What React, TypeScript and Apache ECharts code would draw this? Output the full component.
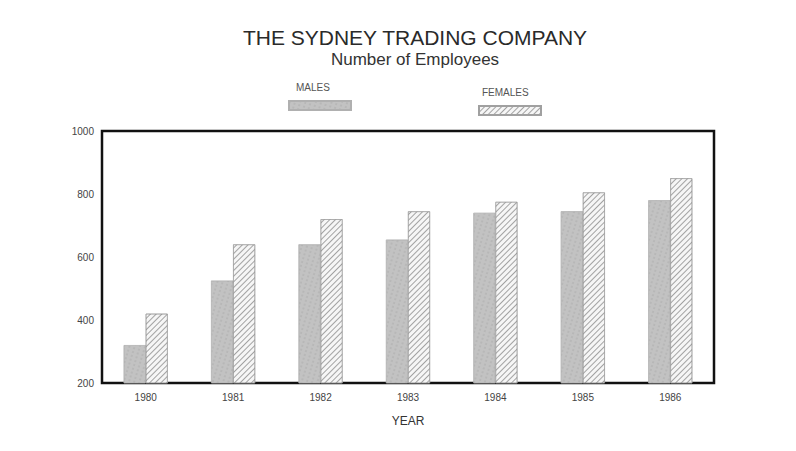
import React, { useEffect, useRef } from "react";
import * as echarts from "echarts";

const years = ["1980", "1981", "1982", "1983", "1984", "1985", "1986"];
const males = [320, 525, 640, 655, 740, 745, 780];
const females = [420, 640, 720, 745, 775, 805, 850];
const yTicks = { min: 200, max: 1000, interval: 200 };

export default function App() {
  const ref = useRef<HTMLDivElement>(null);
  useEffect(() => {
    const chart = echarts.init(ref.current!, null, { renderer: "svg" });
    const font = "Liberation Sans";
    chart.setOption({
      animation: false,
      backgroundColor: "#ffffff",
      title: [
        {
          text: "THE SYDNEY TRADING COMPANY",
          left: 410,
          top: 22,
          textAlign: "center",
          textStyle: { fontFamily: font, fontSize: 21, fontWeight: "normal", color: "#2a2a2a" },
        },
        {
          text: "Number of Employees",
          left: 410,
          top: 46,
          textAlign: "center",
          textStyle: { fontFamily: font, fontSize: 17, fontWeight: "normal", color: "#333" },
        },
      ],
      legend: [
        {
          data: [{ name: "MALES", icon: "rect" }],
          left: 283,
          top: 95,
          itemWidth: 62,
          itemHeight: 9,
          itemGap: 0,
          formatter: () => "",
          selectedMode: false,
          textStyle: { fontSize: 1 },
        },
        {
          data: [{ name: "FEMALES", icon: "rect" }],
          left: 473,
          top: 100,
          itemWidth: 62,
          itemHeight: 9,
          itemGap: 0,
          formatter: () => "",
          selectedMode: false,
          textStyle: { fontSize: 1 },
        },
      ],
      graphic: [
        {
          type: "text",
          left: 296,
          top: 82,
          style: { text: "MALES", fontFamily: font, fontSize: 10, fill: "#555" },
        },
        {
          type: "text",
          left: 482,
          top: 87,
          style: { text: "FEMALES", fontFamily: font, fontSize: 10, fill: "#555" },
        },
      ],
      grid: {
        left: 102,
        right: 82,
        top: 131,
        bottom: 68,
        show: true,
        borderColor: "#111",
        borderWidth: 2.5,
        backgroundColor: "#ffffff",
      },
      xAxis: {
        type: "category",
        data: years,
        axisLine: { show: false },
        axisTick: { show: false },
        axisLabel: { fontFamily: font, fontSize: 10, color: "#444", margin: 9 },
        name: "YEAR",
        nameLocation: "middle",
        nameGap: 32,
        nameTextStyle: { fontFamily: font, fontSize: 12, color: "#333" },
      },
      yAxis: {
        type: "value",
        min: yTicks.min,
        max: yTicks.max,
        interval: yTicks.interval,
        splitLine: { show: false },
        axisLine: { show: false },
        axisTick: { show: false },
        axisLabel: {
          fontFamily: font,
          fontSize: 10,
          color: "#444",
          margin: 8,
          formatter: (v: number) => String(v),
        },
      },
      series: [
        {
          name: "MALES",
          type: "bar",
          data: males,
          barWidth: 22,
          barGap: "0%",
          itemStyle: {
            color: "#c2c2c2",
            borderColor: "#b0b0b0",
            borderWidth: 0.5,
            decal: {
              symbol: "circle",
              symbolSize: 0.6,
              color: "rgba(90,90,90,0.3)",
              dashArrayX: [[2, 3]],
              dashArrayY: [2, 2],
              rotation: 0.3,
            },
          },
        },
        {
          name: "FEMALES",
          type: "bar",
          data: females,
          barWidth: 22,
          itemStyle: {
            color: "#f6f6f6",
            borderColor: "#a0a0a0",
            borderWidth: 0.6,
            decal: {
              symbol: "rect",
              symbolSize: 1,
              color: "rgba(80,80,80,0.5)",
              dashArrayX: [1, 0],
              dashArrayY: [1, 3],
              rotation: -Math.PI / 4,
            },
          },
        },
      ],
    });
    return () => chart.dispose();
  }, []);
  return (
    <div
      ref={ref}
      style={{ position: "fixed", left: 0, top: 0, width: 796, height: 451 }}
    />
  );
}
